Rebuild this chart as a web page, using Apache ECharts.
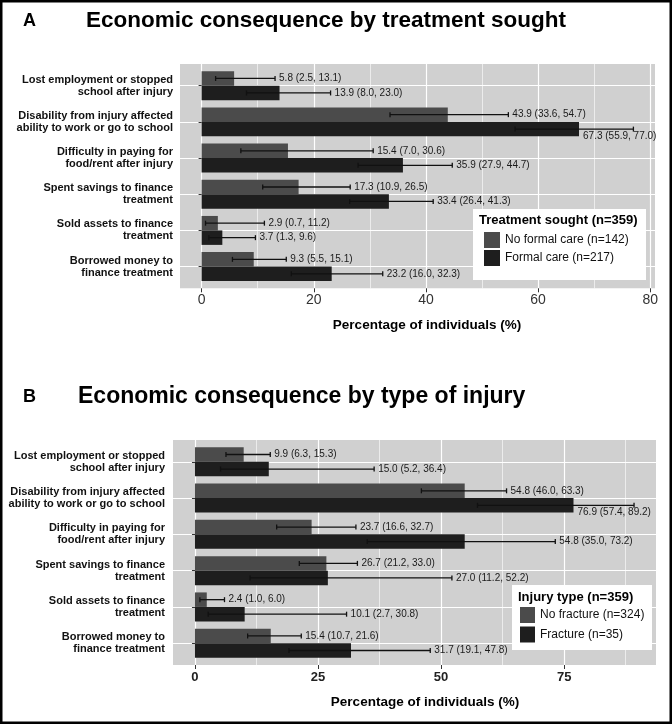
<!DOCTYPE html>
<html><head><meta charset="utf-8">
<script src="https://cdn.jsdelivr.net/npm/echarts@6/dist/echarts.min.js"></script>
<style>html,body{margin:0;padding:0;background:#fff}#c{width:672px;height:724px}</style>
</head><body><div id="c"></div>
<script>
// ---------------- data ----------------
const categories = [
  "Lost employment or stopped\nschool after injury",
  "Disability from injury affected\nability to work or go to school",
  "Difficulty in paying for\nfood/rent after injury",
  "Spent savings to finance\ntreatment",
  "Sold assets to finance\ntreatment",
  "Borrowed money to\nfinance treatment"
];

const seriesNamesA = ["No formal care (n=142)", "Formal care (n=217)"];
const noFormalCare   = [5.8, 43.9, 15.4, 17.3, 2.9, 9.3];
const noFormalCareLo = [2.5, 33.6, 7.0, 10.9, 0.7, 5.5];
const noFormalCareHi = [13.1, 54.7, 30.6, 26.5, 11.2, 15.1];
const formalCare     = [13.9, 67.3, 35.9, 33.4, 3.7, 23.2];
const formalCareLo   = [8.0, 55.9, 27.9, 26.4, 1.3, 16.0];
const formalCareHi   = [23.0, 77.0, 44.7, 41.3, 9.6, 32.3];

const seriesNamesB = ["No fracture (n=324)", "Fracture (n=35)"];
const noFracture   = [9.9, 54.8, 23.7, 26.7, 2.4, 15.4];
const noFractureLo = [6.3, 46.0, 16.6, 21.2, 1.0, 10.7];
const noFractureHi = [15.3, 63.3, 32.7, 33.0, 6.0, 21.6];
const fracture     = [15.0, 76.9, 54.8, 27.0, 10.1, 31.7];
const fractureLo   = [5.2, 57.4, 35.0, 11.2, 2.7, 19.1];
const fractureHi   = [36.4, 89.2, 73.2, 52.2, 30.8, 47.8];

const xTicksA = [0, 20, 40, 60, 80];
const xTicksB = [0, 25, 50, 75];

const titleA = "Economic consequence by treatment sought";
const titleB = "Economic consequence by type of injury";
const legendTitleA = "Treatment sought (n=359)";
const legendTitleB = "Injury type (n=359)";
const xAxisTitle = "Percentage of individuals (%)";

// ---------------- layout / style ----------------
const FONT = "'Liberation Sans', Arial, Helvetica, sans-serif";
const PANEL_BG = '#d0d0d0';
const C_GRAY = '#4b4b4b';
const C_DARK = '#1e1e1e';
const panelA = {left: 180, right: 655, top: 64, bottom: 288.3};
const panelB = {left: 173, right: 656, top: 440, bottom: 665};

const nCat = categories.length;
function innerRect(p) {
  const band = (p.bottom - p.top) / (nCat + 0.2);
  return {left: p.left, width: p.right - p.left, top: p.top + 0.1 * band, height: band * nCat};
}
function xExtent(his) {
  const mx = Math.max(...his);
  return [-0.05 * mx, mx * 1.05];
}
const extA = xExtent(noFormalCareHi.concat(formalCareHi));
const extB = xExtent(noFractureHi.concat(fractureHi));

function fullGrid(p) {
  return {left: p.left, top: p.top, width: p.right - p.left, height: p.bottom - p.top,
    show: true, backgroundColor: PANEL_BG, borderWidth: 0, containLabel: false, outerBoundsMode: 'none'};
}
function barGrid(p) {
  const r = innerRect(p);
  return {left: r.left, top: r.top, width: r.width, height: r.height, show: false,
    containLabel: false, outerBoundsMode: 'none'};
}

function xFull(gi, ext, ticks, label) {
  const step = ticks[1] - ticks[0];
  return {type: 'value', gridIndex: gi, min: ext[0], max: ext[1], minInterval: step, maxInterval: step,
    axisLine: {show: false},
    axisTick: {show: true, length: 4, customValues: ticks, lineStyle: {color: '#333', width: 1}},
    axisLabel: Object.assign({customValues: ticks, fontFamily: FONT}, label),
    splitLine: {show: true, lineStyle: {color: '#fff', width: 1.2}},
    minorTick: {show: false, splitNumber: 2},
    minorSplitLine: {show: true, lineStyle: {color: '#fff', width: 0.6}}
  };
}
function xHidden(gi, ext) {
  return {type: 'value', gridIndex: gi, min: ext[0], max: ext[1], show: false,
    splitLine: {show: false}};
}
const catCenters = categories.map((_, i) => i + 1);
function yFull(gi) {
  return {type: 'value', gridIndex: gi, inverse: true, min: 0.4, max: nCat + 0.6,
    axisLine: {show: false}, axisLabel: {show: false},
    axisTick: {show: false, customValues: catCenters},
    splitLine: {show: true, lineStyle: {color: '#fff', width: 1.2}}};
}
function yCat(gi, margin) {
  return {type: 'category', gridIndex: gi, data: categories, inverse: true,
    axisLine: {show: false},
    axisTick: {show: true, alignWithLabel: true, length: 3, lineStyle: {color: '#333'}},
    axisLabel: {interval: 0, fontFamily: FONT, fontWeight: 'bold', fontSize: 11, lineHeight: 12,
      color: '#111', margin: margin},
    splitLine: {show: false}};
}

function barSeries(name, xi, yi, vals, color) {
  return {type: 'bar', name: name, xAxisIndex: xi, yAxisIndex: yi, data: vals,
    barWidth: '40%', barGap: '0%', itemStyle: {color: color}, silent: true, z: 2};
}
function errSeries(name, xi, yi, vals, lo, hi, slot, xmax) {
  return {type: 'custom', name: name + ' CI', xAxisIndex: xi, yAxisIndex: yi, silent: true, z: 5,
    data: vals.map((v, i) => [lo[i], hi[i], i, v]),
    encode: {x: [0, 1, 3], y: 2},
    renderItem: function (params, api) {
      const l = api.value(0), h = api.value(1), ci = api.value(2), v = api.value(3);
      const band = api.size([0, 1])[1];
      const c = api.coord([l, ci]);
      const y = c[1] + (slot ? 0.2 : -0.2) * band;
      const x1 = c[0], x2 = api.coord([h, ci])[0], xv = api.coord([v, ci])[0];
      const txt = v.toFixed(1) + ' (' + l.toFixed(1) + ', ' + h.toFixed(1) + ')';
      const crowded = h > 0.85 * xmax;
      const ls = {stroke: '#111', lineWidth: 1.3};
      return {type: 'group', children: [
        {type: 'line', shape: {x1: x1, y1: y, x2: x2, y2: y}, style: ls},
        {type: 'line', shape: {x1: x1, y1: y - 2.5, x2: x1, y2: y + 2.5}, style: ls},
        {type: 'line', shape: {x1: x2, y1: y - 2.5, x2: x2, y2: y + 2.5}, style: ls},
        {type: 'text', x: crowded ? xv + 4 : x2 + 4, y: crowded ? y + 7 : y,
          style: {text: txt, fill: '#1a1a1a', fontSize: 10, fontFamily: FONT,
            align: 'left', verticalAlign: 'middle'}}
      ]};
    }
  };
}

function legendOpt(names, left, top, iw, ih, gap) {
  return {data: names, orient: 'vertical', left: left, top: top, itemWidth: iw, itemHeight: ih,
    itemGap: gap, icon: 'rect', padding: 0, selectedMode: false, z: 8,
    textStyle: {fontSize: 12, fontFamily: FONT, color: '#111'}};
}

function txt(x, y, text, size, weight, align) {
  return {type: 'text', x: x, y: y, z: 9, silent: true,
    style: {text: text, fontSize: size, fontWeight: weight, fontFamily: FONT, fill: '#000',
      align: align || 'left', verticalAlign: 'middle'}};
}

const option = {
  backgroundColor: '#fff',
  animation: false,
  grid: [fullGrid(panelA), barGrid(panelA), fullGrid(panelB), barGrid(panelB)],
  xAxis: [
    xFull(0, extA, xTicksA, {fontSize: 14, color: '#333', margin: 5}),
    xHidden(1, extA),
    xFull(2, extB, xTicksB, {fontSize: 13, fontWeight: 'bold', color: '#222', margin: 6}),
    xHidden(3, extB)
  ],
  yAxis: [yFull(0), yCat(1, 7), yFull(2), yCat(3, 8)],
  legend: [
    legendOpt(seriesNamesA, 484, 232, 16, 16, 2),
    legendOpt(seriesNamesB, 520, 607, 15, 16, 3.5)
  ],
  series: [
    barSeries(seriesNamesA[0], 1, 1, noFormalCare, C_GRAY),
    barSeries(seriesNamesA[1], 1, 1, formalCare, C_DARK),
    errSeries(seriesNamesA[0], 1, 1, noFormalCare, noFormalCareLo, noFormalCareHi, 0, extA[1]),
    errSeries(seriesNamesA[1], 1, 1, formalCare, formalCareLo, formalCareHi, 1, extA[1]),
    barSeries(seriesNamesB[0], 3, 3, noFracture, C_GRAY),
    barSeries(seriesNamesB[1], 3, 3, fracture, C_DARK),
    errSeries(seriesNamesB[0], 3, 3, noFracture, noFractureLo, noFractureHi, 0, extB[1]),
    errSeries(seriesNamesB[1], 3, 3, fracture, fractureLo, fractureHi, 1, extB[1])
  ],
  graphic: [
    {type: 'rect', z: 10, silent: true, shape: {x: 1.25, y: 1.25, width: 669.5, height: 721.5},
      style: {fill: 'none', stroke: '#000', lineWidth: 2.5}},
    txt(23, 21, 'A', 18, 'bold'),
    txt(86, 21, titleA, 22.5, 'bold'),
    txt(23, 397, 'B', 18, 'bold'),
    txt(78, 397, titleB, 23, 'bold'),
    txt(427, 325, xAxisTitle, 13.5, 'bold', 'center'),
    txt(425, 702, xAxisTitle, 13.5, 'bold', 'center'),
    {type: 'rect', z: 3, silent: true, shape: {x: 473, y: 209, width: 173, height: 71}, style: {fill: '#fff'}},
    txt(479, 220, legendTitleA, 13, 'bold'),
    {type: 'rect', z: 3, silent: true, shape: {x: 512, y: 585, width: 140, height: 65}, style: {fill: '#fff'}},
    txt(518, 597, legendTitleB, 13, 'bold')
  ]
};

const chart = echarts.init(document.getElementById('c'), null, {renderer: 'canvas'});
chart.setOption(option);
</script>
</body></html>
